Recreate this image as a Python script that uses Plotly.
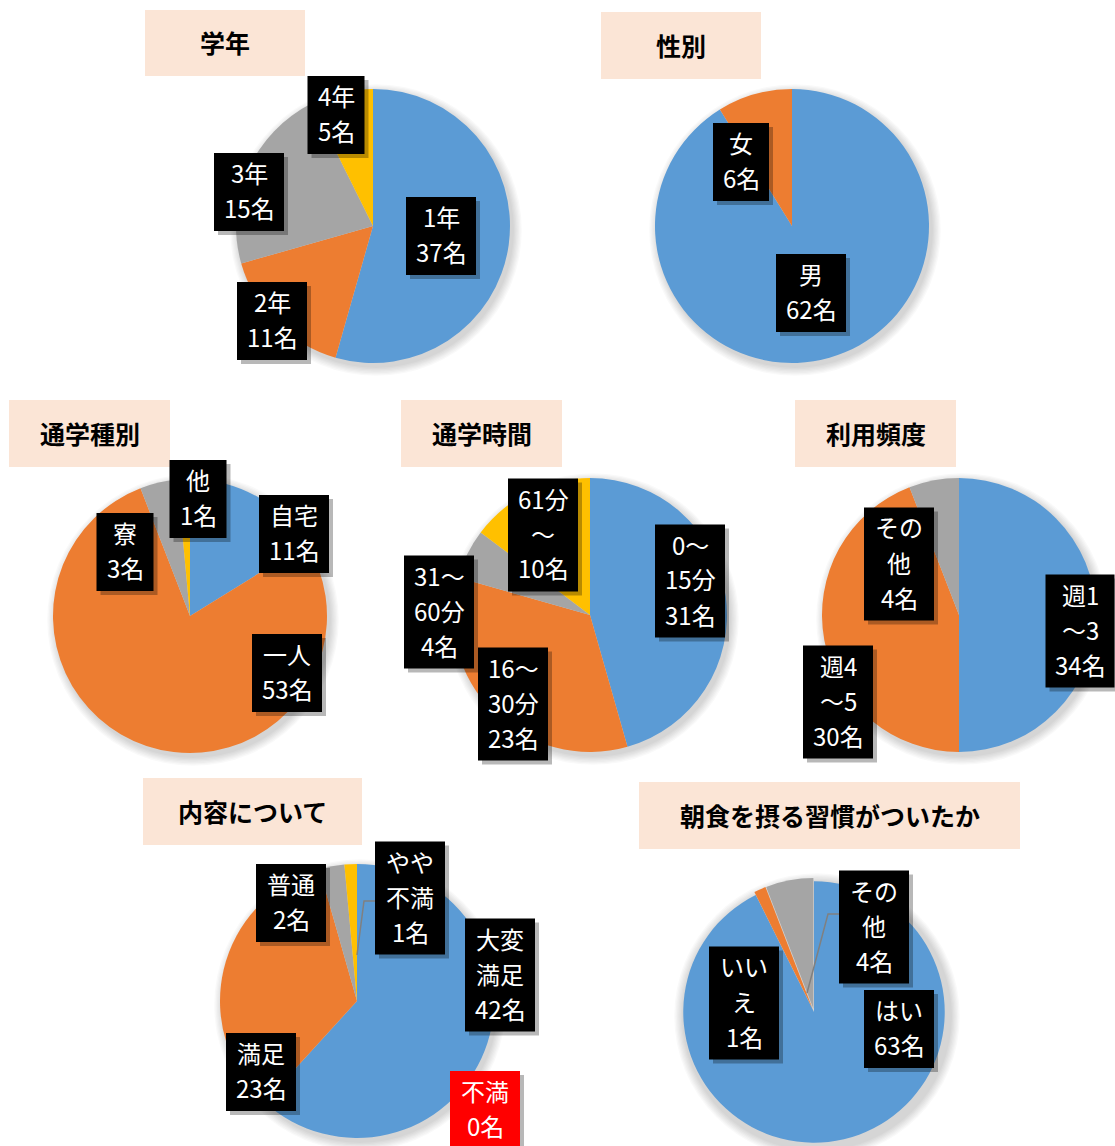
import plotly.graph_objects as go

# ---------------- data ----------------
grade_cats = ["1年", "2年", "3年", "4年"]
grade_vals = [37, 11, 15, 5]

gender_cats = ["男", "女"]
gender_vals = [62, 6]

commute_type_cats = ["自宅", "一人", "寮", "他"]
commute_type_vals = [11, 53, 3, 1]

commute_time_cats = ["0～15分", "16～30分", "31～60分", "61分～"]
commute_time_vals = [31, 23, 4, 10]

freq_cats = ["週1～3", "週4～5", "その他"]
freq_vals = [34, 30, 4]

content_cats = ["大変満足", "満足", "普通", "やや不満", "不満"]
content_vals = [42, 23, 2, 1, 0]

breakfast_cats = ["はい", "いいえ", "その他"]
breakfast_vals = [63, 1, 4]

titles = ["学年", "性別", "通学種別", "通学時間", "利用頻度", "内容について", "朝食を摂る習慣がついたか"]

# how category names are wrapped inside the label boxes
wrap = {
    "0～15分": ["0～", "15分"], "16～30分": ["16～", "30分"], "31～60分": ["31～", "60分"],
    "61分～": ["61分", "～"], "週1～3": ["週1", "～3"], "週4～5": ["週4", "～5"],
    "その他": ["その", "他"], "大変満足": ["大変", "満足"], "やや不満": ["やや", "不満"],
    "いいえ": ["いい", "え"],
}

# ---------------- style / layout ----------------
W, H = 1115, 1146
BLUE, ORANGE, GRAY, YELLOW = "#5B9BD5", "#ED7D31", "#A5A5A5", "#FFC000"
PALETTE = [BLUE, ORANGE, GRAY, YELLOW, "#4472C4"]
FONT = "Noto Sans CJK JP"

def px(x):
    return x / W

def py(y):
    return 1 - y / H

charts = [
    dict(cats=grade_cats, vals=grade_vals, center=(373, 226, 137), pull=None,
         title_box=(145, 10, 305, 76),
         boxes=[(441, 236, 70, 78), (272, 321, 70, 78), (249, 192, 70, 78), (336, 115, 57, 78)]),
    dict(cats=gender_cats, vals=gender_vals, center=(792, 226, 137), pull=None,
         title_box=(601, 12, 761, 79),
         boxes=[(811, 293, 70, 78), (741, 162, 56, 78)]),
    dict(cats=commute_type_cats, vals=commute_type_vals, center=(190, 616, 137), pull=None,
         title_box=(9, 400, 170, 467),
         boxes=[(294, 534, 70, 78), (287, 673, 70, 78), (125, 552, 57, 78), (198, 499, 57, 78)]),
    dict(cats=commute_time_cats, vals=commute_time_vals, center=(590, 615, 137), pull=None,
         title_box=(401, 400, 562, 467),
         boxes=[(690, 581, 70, 113), (513, 704, 70, 113), (439, 612, 70, 113), (543, 535, 70, 113)]),
    dict(cats=freq_cats, vals=freq_vals, center=(959, 615, 137), pull=None,
         title_box=(795, 400, 956, 467),
         boxes=[(1080, 631, 69, 113), (838, 702, 70, 113), (899, 564, 70, 113)]),
    dict(cats=content_cats, vals=content_vals, center=(357, 1001, 137), pull=None,
         title_box=(143, 778, 362, 845),
         boxes=[(500, 975, 70, 113), (261, 1072, 70, 78), (291, 903, 70, 78),
                (410, 898, 70, 113), (485, 1110, 70, 78)],
         box_colors={4: "#FF0000"},
         leaders={3: [(375, 901), (364, 901), (357, 955)]}),
    dict(cats=breakfast_cats, vals=breakfast_vals, center=(814, 1012, 134), pull=[0, 0.025, 0.025],
         title_box=(639, 782, 1020, 849),
         boxes=[(899, 1029, 70, 78), (744, 1003, 70, 113), (874, 927, 70, 113)],
         leaders={2: [(839, 914), (828, 914), (807, 993)]}),
]

fig = go.Figure()
shapes = []
annotations = []

for ci, ch in enumerate(charts):
    cx, cy, r = ch["center"]
    n = len(ch["cats"])
    fig.add_trace(go.Pie(
        labels=ch["cats"], values=ch["vals"], sort=False, direction="clockwise", rotation=0,
        textinfo="none", showlegend=False, pull=ch["pull"],
        marker=dict(colors=PALETTE[:n], line=dict(width=0)),
        domain=dict(x=[px(cx - r), px(cx + r)], y=[max(0, py(cy + r)), py(cy - r)]),
        hovertemplate="%{label}: %{value}名<extra></extra>",
    ))
    # soft pie shadow
    for k in range(7):
        rr = r + 1 + k * 1.3
        shapes.append(dict(type="circle", xref="paper", yref="paper", layer="below",
                           x0=px(cx + 3 - rr), x1=px(cx + 3 + rr), y0=py(cy + 4 + rr), y1=py(cy + 4 - rr),
                           fillcolor="rgba(0,0,0,0.022)", line=dict(width=0)))
    # title box
    x0, y0, x1, y1 = ch["title_box"]
    shapes.append(dict(type="rect", xref="paper", yref="paper", layer="below",
                       x0=px(x0), x1=px(x1), y0=py(y1), y1=py(y0),
                       fillcolor="#FBE5D6", line=dict(width=0)))
    annotations.append(dict(text="<b>%s</b>" % titles[ci], x=px((x0 + x1) / 2), y=py((y0 + y1) / 2 - 1),
                            xref="paper", yref="paper", showarrow=False, xanchor="center", yanchor="middle",
                            font=dict(family=FONT, size=25, color="#000000")))
    # leader lines
    for idx, pts in ch.get("leaders", {}).items():
        path = "M " + " L ".join("%f,%f" % (px(a), py(b)) for a, b in pts)
        shapes.append(dict(type="path", xref="paper", yref="paper", layer="above", path=path,
                           line=dict(color="#808080", width=1.5)))
    # label boxes
    for idx, (bx, by, bw, bh) in enumerate(ch["boxes"]):
        color = ch.get("box_colors", {}).get(idx, "#000000")
        shapes.append(dict(type="rect", xref="paper", yref="paper", layer="above",
                           x0=px(bx - bw / 2 + 4), x1=px(bx + bw / 2 + 4),
                           y0=py(by + bh / 2 + 4), y1=py(by - bh / 2 + 4),
                           fillcolor="rgba(0,0,0,0.28)", line=dict(width=0)))
        shapes.append(dict(type="rect", xref="paper", yref="paper", layer="above",
                           x0=px(bx - bw / 2), x1=px(bx + bw / 2),
                           y0=py(by + bh / 2), y1=py(by - bh / 2),
                           fillcolor=color, line=dict(width=0)))
        cat = ch["cats"][idx]
        lines = list(wrap.get(cat, [cat])) + ["%d名" % ch["vals"][idx]]
        nl = len(lines)
        for li, t in enumerate(lines):
            ly = by + (li - (nl - 1) / 2) * 35 - 2
            annotations.append(dict(text=t, x=px(bx), y=py(ly), xref="paper", yref="paper",
                                    showarrow=False, xanchor="center", yanchor="middle",
                                    font=dict(family=FONT, size=24, color="#FFFFFF")))

fig.update_layout(
    width=W, height=H, margin=dict(l=0, r=0, t=0, b=0),
    paper_bgcolor="#FFFFFF", plot_bgcolor="#FFFFFF",
    shapes=shapes, annotations=annotations,
    font=dict(family=FONT),
)

fig.write_html("out.html", config={"displayModeBar": False},
               post_script="document.body.style.margin='0';document.body.style.overflow='hidden';")
